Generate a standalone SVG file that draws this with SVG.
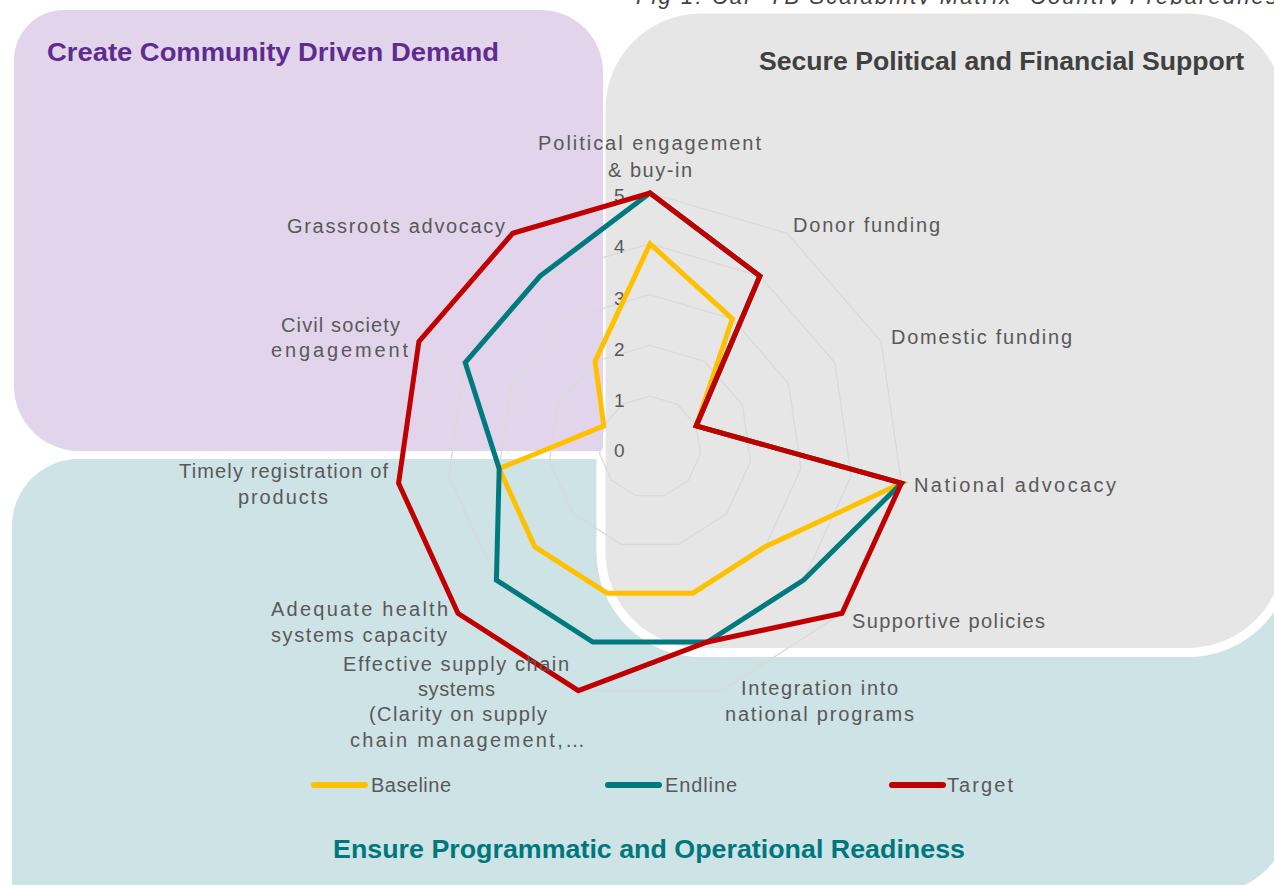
<svg xmlns="http://www.w3.org/2000/svg" width="1274" height="885" viewBox="0 0 1274 885">
<style>
.lbl{font-family:"Liberation Sans",Arial,sans-serif;font-size:20px;fill:#595959}
.tick{font-family:"Liberation Sans",Arial,sans-serif;font-size:19px;fill:#595959}
.ttl{font-family:"Liberation Sans",Arial,sans-serif;font-size:26px;font-weight:bold}
.ring{fill:none;stroke:#D9D9D9;stroke-width:1.3}
.series{fill:none;stroke-width:5;stroke-linejoin:miter}
.leg{stroke-width:6;stroke-linecap:round}
</style>
<rect width="1274" height="885" fill="#FFFFFF"/>
<text x="636" y="4" font-family="Liberation Sans, Arial, sans-serif" font-size="22" font-style="italic" fill="#404040" textLength="654" lengthAdjust="spacing">Fig 1: Cal- TB Scalability Matrix- Country Preparedness</text>
<g id="panel-programmatic">
<path d="M12,526 A67,67 0 0 1 79,459 L1290,459 L1290,813 A80,80 0 0 1 1210,893 L12,893 Z" fill="#CDE3E6"/>
</g>
<g id="panel-political">
<rect x="601" y="9" width="687" height="643.5" rx="100" ry="100" fill="#E6E6E6" stroke="#FFFFFF" stroke-width="9"/>
</g>
<g id="panel-community">
<path d="M14,60 A50,50 0 0 1 64,10 L541,10 A62,62 0 0 1 603,72 L603,447 Q603,451 599,451 L79,451 A65,65 0 0 1 14,386 Z" fill="#E2D5EB"/>
</g>
<text class="ttl" x="47" y="61" fill="#5F2B8F" textLength="452" lengthAdjust="spacingAndGlyphs">Create Community Driven Demand</text>
<text class="ttl" x="1244" y="70" fill="#404040" text-anchor="end" textLength="485" lengthAdjust="spacingAndGlyphs">Secure Political and Financial Support</text>
<text class="ttl" x="333" y="858" fill="#00777B" textLength="632" lengthAdjust="spacingAndGlyphs">Ensure Programmatic and Operational Readiness</text>
<g id="grid">
<polygon class="ring" points="650,396.2 677.5,404.3 696.2,425.9 700.3,454.2 688.4,480.3 664.3,495.7 635.7,495.7 611.6,480.3 599.7,454.2 603.8,425.9 622.5,404.3"/>
<polygon class="ring" points="650,345.4 704.9,361.5 742.4,404.8 750.6,461.5 726.8,513.5 678.6,544.5 621.4,544.5 573.2,513.5 549.4,461.5 557.6,404.8 595.1,361.5"/>
<polygon class="ring" points="650,294.6 732.4,318.8 788.6,383.7 800.9,468.7 765.2,546.8 692.9,593.2 607.1,593.2 534.8,546.8 499.2,468.7 511.4,383.7 567.6,318.8"/>
<polygon class="ring" points="650,243.8 759.9,276.1 834.8,362.6 851.1,475.9 803.6,580.1 707.3,642 592.8,642 496.4,580.1 448.9,475.9 465.2,362.6 540.1,276.1"/>
<polygon class="ring" points="650,193 787.3,233.3 881.1,341.5 901.4,483.2 842,613.3 721.6,690.7 578.4,690.7 458,613.3 398.6,483.2 418.9,341.5 512.7,233.3"/>
</g>
<g id="ticks" class="tick">
<text x="614" y="202">5</text>
<text x="614" y="253">4</text>
<text x="614" y="305">3</text>
<text x="614" y="356">2</text>
<text x="614" y="407">1</text>
<text x="614" y="457">0</text>
</g>
<g id="connectors">
<polygon class="series" stroke="#FFC000" points="650,243.8 732.4,318.8 696.2,425.9 901.4,483.2 765.2,546.8 692.9,593.2 607.1,593.2 534.8,546.8 499.2,468.7 603.8,425.9 595.1,361.5"/>
<polygon class="series" stroke="#007A7E" points="650,193 759.9,276.1 696.2,425.9 901.4,483.2 803.6,580.1 707.3,642 592.8,642 496.4,580.1 499.2,468.7 465.2,362.6 540.1,276.1"/>
<polygon class="series" stroke="#C00000" points="650,193 759.9,276.1 696.2,425.9 901.4,483.2 842,613.3 707.3,642 578.4,690.7 458,613.3 398.6,483.2 418.9,341.5 512.7,233.3"/>
</g>
<g id="axis-labels" class="lbl">
<text x="538" y="150" textLength="223">Political engagement</text>
<text x="608" y="177" textLength="84">&amp; buy-in</text>
<text x="793" y="232" textLength="147">Donor funding</text>
<text x="891" y="344" textLength="181">Domestic funding</text>
<text x="914" y="492" textLength="202">National advocacy</text>
<text x="852" y="628" textLength="193">Supportive policies</text>
<text x="741" y="695" textLength="157">Integration into</text>
<text x="725" y="721" textLength="189">national programs</text>
<text x="343" y="671" textLength="226">Effective supply chain</text>
<text x="418" y="696" textLength="77">systems</text>
<text x="369" y="721" textLength="178">(Clarity on supply</text>
<text x="350" y="747" textLength="235">chain management,…</text>
<text x="271" y="616" textLength="177">Adequate health</text>
<text x="271" y="642" textLength="176">systems capacity</text>
<text x="179" y="478" textLength="209">Timely registration of</text>
<text x="238" y="504" textLength="90">products</text>
<text x="281" y="332" textLength="119">Civil society</text>
<text x="271" y="357" textLength="137">engagement</text>
<text x="287" y="233" textLength="218">Grassroots advocacy</text>
</g>
<g id="legend">
<line class="leg" x1="314" y1="785" x2="365" y2="785" stroke="#FFC000"/>
<text class="lbl" x="371" y="792" textLength="80">Baseline</text>
<line class="leg" x1="608" y1="785" x2="659" y2="785" stroke="#007A7E"/>
<text class="lbl" x="665" y="792" textLength="72">Endline</text>
<line class="leg" x1="892" y1="785" x2="943" y2="785" stroke="#C00000"/>
<text class="lbl" x="947" y="792" textLength="66">Target</text>
</g>
</svg>
